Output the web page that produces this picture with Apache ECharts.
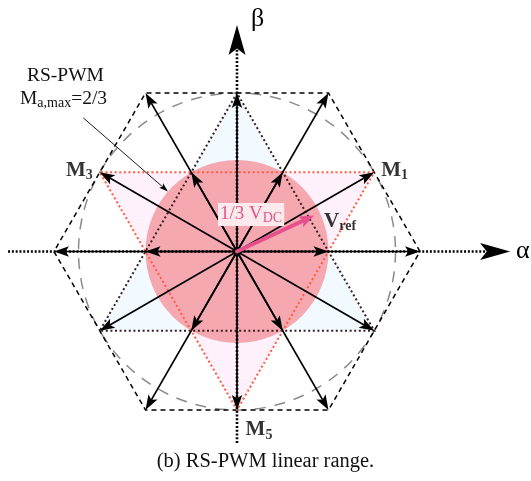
<!DOCTYPE html>
<html>
<head>
<meta charset="utf-8">
<script src="https://cdn.jsdelivr.net/npm/echarts@6/dist/echarts.min.js"></script>
<style>
  html, body { margin: 0; padding: 0; background: #ffffff; }
  #chart { width: 531px; height: 481px; }
</style>
</head>
<body>
<div id="chart"></div>
<script>
// Space-vector plane: every point is [magnitude (in V_DC), angle (deg)]
const activeAngles = [0, 60, 120, 180, 240, 300];      // V1..V6 (hexagon vertices)
const activeMag = 2 / 3;
const virtualAngles = [30, 90, 150, 210, 270, 330];    // M1..M6 (hexagon edge midpoints)
const virtualMag = 0.5774;                             // 1/sqrt(3)
const innerAngles = [0, 60, 120, 180, 240, 300];       // inner hexagon of the two triangles
const innerMag = 1 / 3;
const oddTriangleAngles = [30, 150, 270];              // M1, M3, M5 triangle
const evenTriangleAngles = [90, 210, 330];             // M2, M4, M6 triangle
const linearRangeRadius = 1 / 3;                       // RS-PWM linear range
const inscribedRadius = 0.5774;                        // circle inscribed in the hexagon
const vref = [0.31, 25];                               // reference vector
const vectorLabels = [
  { idx: '1', mag: 0.5774, angle: 30 },
  { idx: '3', mag: 0.5774, angle: 150 },
  { idx: '5', mag: 0.5774, angle: 270 }
];
const noteLeader = { from: 0.742, to: 1 / 3, angle: 139 };
const alphaAxisExtent = [0.834, 0.995];                // [negative end, arrow tip]
const betaAxisExtent = [0.698, 0.825];

const SERIF = '"Liberation Serif", "DejaVu Serif", serif';

function arrow(p0, p1, o) {
  const dx = p1[0] - p0[0], dy = p1[1] - p0[1];
  const L = Math.hypot(dx, dy);
  const ux = dx / L, uy = dy / L, px = -uy, py = ux;
  const hl = o.headLen, hw = o.headW / 2;
  const back = [p1[0] - ux * hl, p1[1] - uy * hl];
  const notch = [p1[0] - ux * hl * 0.78, p1[1] - uy * hl * 0.78];
  return [
    { type: 'line', shape: { x1: p0[0], y1: p0[1], x2: notch[0], y2: notch[1] },
      style: { stroke: o.color, lineWidth: o.width, lineDash: o.dash || null, lineCap: o.cap || 'butt' } },
    { type: 'polygon',
      shape: { points: [p1, [back[0] + px * hw, back[1] + py * hw], notch, [back[0] - px * hw, back[1] - py * hw]] },
      style: { fill: o.color } }
  ];
}

function ring(api, mag, angles, closed) {
  const pts = angles.map(a => api.coord([mag, a]));
  if (closed) pts.push(pts[0]);
  return pts;
}

function renderPlane(params, api) {
  const c = api.coord([0, 0]);
  const radPx = r => api.coord([r, 0])[0] - c[0];
  const children = [];
  // triangle fills
  children.push({ type: 'polygon', shape: { points: ring(api, virtualMag, evenTriangleAngles) },
    style: { fill: '#f2faff' } });
  children.push({ type: 'polygon', shape: { points: ring(api, virtualMag, oddTriangleAngles) },
    style: { fill: '#fef1fb' } });
  // linear range disc
  children.push({ type: 'circle', shape: { cx: c[0], cy: c[1], r: radPx(linearRangeRadius) },
    style: { fill: '#f5a8b0' } });
  // inscribed circle
  children.push({ type: 'circle', shape: { cx: c[0], cy: c[1], r: radPx(inscribedRadius) },
    style: { fill: null, stroke: '#8a8a8a', lineWidth: 1.5, lineDash: [11, 9] } });
  // outer hexagon
  children.push({ type: 'polyline', shape: { points: ring(api, activeMag, activeAngles, true) },
    style: { fill: null, stroke: '#000', lineWidth: 1.5, lineDash: [5, 4] } });
  // dotted triangles
  children.push({ type: 'polyline', shape: { points: ring(api, virtualMag, evenTriangleAngles, true) },
    style: { fill: null, stroke: '#3a1f22', lineWidth: 2, lineDash: [2, 2.6] } });
  children.push({ type: 'polyline', shape: { points: ring(api, virtualMag, oddTriangleAngles, true) },
    style: { fill: null, stroke: '#ff5b3f', lineWidth: 2, lineDash: [2, 2.6] } });
  // alpha / beta axes
  const axisStyle = { color: '#000', width: 2.6, dash: [2, 1.8], headLen: 30, headW: 17 };
  children.push(...arrow(api.coord([alphaAxisExtent[0], 180]), api.coord([alphaAxisExtent[1], 0]), axisStyle));
  children.push(...arrow(api.coord([betaAxisExtent[0], 270]), api.coord([betaAxisExtent[1], 90]), axisStyle));
  return { type: 'group', children: children };
}

function renderVector(params, api) {
  const p0 = api.coord([0, 0]);
  const p1 = api.coord([api.value(0), api.value(1)]);
  return { type: 'group', children: arrow(p0, p1, { color: '#000', width: 1.7, headLen: 15, headW: 10.5 }) };
}

const vectorData = []
  .concat(activeAngles.map(a => [activeMag, a]))
  .concat(virtualAngles.map(a => [virtualMag, a]))
  .concat(innerAngles.map(a => [innerMag, a]));

const subRich = {
  m: { fontFamily: SERIF, fontWeight: 'bold', fontSize: 21, color: '#000' },
  s: { fontFamily: SERIF, fontWeight: 'bold', fontSize: 14, color: '#000', padding: [10, 0, 0, 0] }
};

const chart = echarts.init(document.getElementById('chart'), null, { renderer: 'canvas' });

chart.setOption({
  animation: false,
  backgroundColor: '#ffffff',
  polar: { center: [237, 251.5], radius: 183 },
  radiusAxis: { type: 'value', min: 0, max: activeMag, show: false },
  angleAxis: { type: 'value', min: 0, max: 360, startAngle: 0, clockwise: false, show: false },
  series: [
    { type: 'custom', coordinateSystem: 'polar', data: [[0, 0]], renderItem: renderPlane, silent: true, z: 1 },
    { type: 'custom', coordinateSystem: 'polar', data: vectorData, renderItem: renderVector, silent: true, z: 2 },
    { // annotation leader pointing at the linear-range circle
      type: 'custom', coordinateSystem: 'polar', z: 2, silent: true,
      data: [[noteLeader.from, noteLeader.angle, noteLeader.to]],
      renderItem: (params, api) => ({ type: 'group', children: arrow(
        api.coord([api.value(0), api.value(1)]), api.coord([api.value(2), api.value(1)]),
        { color: '#000', width: 0.9, headLen: 9, headW: 6 }) })
    },
    { // reference vector
      type: 'custom', coordinateSystem: 'polar', z: 3, silent: true,
      data: [vref],
      renderItem: (params, api) => ({ type: 'group', children: arrow(
        api.coord([0, 0]), api.coord([api.value(0), api.value(1)]),
        { color: '#e6508b', width: 4, headLen: 15, headW: 12, cap: 'round' }) })
    },
    { // vector names
      type: 'scatter', coordinateSystem: 'polar', z: 4, silent: true,
      symbolSize: 0,
      data: vectorLabels.map(d => ({
        value: [d.mag, d.angle], name: 'M', sub: d.idx,
        label: d.angle === 30 ? { position: 'right', offset: [2, -2] }
             : d.angle === 150 ? { position: 'left', offset: [-2, -2] }
             : { position: 'bottom', offset: [22, 3] }
      })).concat([{
        value: vref, name: 'V', sub: 'ref',
        label: { position: 'right', offset: [5, 6] }
      }]),
      label: {
        show: true,
        formatter: p => '{m|' + p.name + '}{s|' + p.data.sub + '}',
        rich: subRich
      }
    }
  ],
  graphic: [
    { type: 'text', left: 27, top: 66, z: 10,
      style: { text: 'RS-PWM', font: '19.5px ' + SERIF, fill: '#111' } },
    { type: 'text', left: 20, top: 89, z: 10,
      style: { text: '{m|M}{s|a,max}{m|=2/3}', fill: '#111',
        rich: { m: { font: '19.5px ' + SERIF }, s: { font: '14px ' + SERIF, padding: [8, 0, 0, 0] } } } },
    { type: 'text', left: 218, top: 203, z: 10,
      style: { text: '{n|1/3 V}{s|DC}', backgroundColor: '#fdeaec', padding: [1, 2, 1, 2],
        rich: { n: { font: '19px ' + SERIF, fill: '#e3548a' }, s: { font: '14px ' + SERIF, fill: '#e3548a', padding: [7, 0, 0, 0] } } } },
    { type: 'text', left: 516, top: 238, z: 10,
      style: { text: 'α', font: '26px ' + SERIF, fill: '#000' } },
    { type: 'text', left: 251, top: 6, z: 10,
      style: { text: 'β', font: '26px ' + SERIF, fill: '#000' } },
    { type: 'text', left: 'center', top: 451, z: 10,
      style: { text: '(b) RS-PWM linear range.', font: '20.5px ' + SERIF, fill: '#111' } }
  ]
});
</script>
</body>
</html>
